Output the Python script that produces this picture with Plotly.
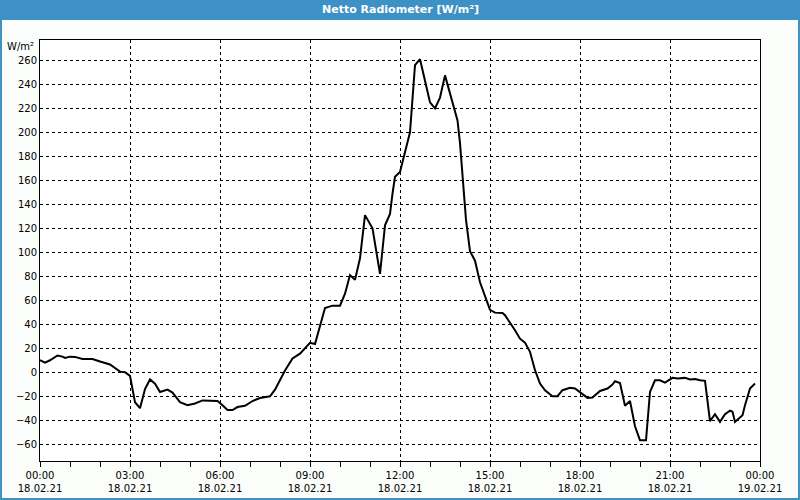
import pandas as pd
import plotly.graph_objects as go

# minutes after 18.02.21 00:00
minutes = [0, 10, 20, 35, 45, 50, 60, 70, 85, 105, 120, 140, 160, 170, 180, 190, 200, 210, 220, 230,
           240, 255, 265, 280, 295, 310, 325, 340, 355, 365, 375, 385, 395, 410, 425, 440, 450, 460, 470, 490,
           505, 520, 540, 550, 570, 585, 600, 610, 620, 630, 640, 650, 665, 670, 680, 690, 700, 705, 710, 720,
           740, 750, 760, 770, 780, 790, 800, 810, 825, 835, 840, 852, 860, 870, 880, 890, 900, 910, 925, 930,
           940, 950, 960, 970, 980, 990, 1000, 1010, 1025, 1035, 1045, 1060, 1070, 1085, 1095, 1105, 1120, 1135, 1145, 1150,
           1160, 1170, 1180, 1190, 1200, 1212, 1220, 1230, 1240, 1250, 1265, 1275, 1290, 1300, 1310, 1320, 1330, 1340, 1350, 1360,
           1370, 1380, 1385, 1390, 1405, 1410, 1420, 1430]
values = [10, 8, 10, 14, 13, 12, 13, 12.8, 11, 11, 9, 6.5, 0.5, 0, -3, -25, -30, -14, -6, -9.5,
          -16.5, -14.5, -17, -25, -27.5, -26, -23.5, -24, -24, -27.5, -31.5, -31.5, -29, -28, -24, -21.5, -20.5, -20, -14.5, 1.5,
          11.5, 15.5, 24.5, 23.5, 53.5, 55.5, 55.5, 65.5, 81, 77, 95, 131, 120, 107, 82, 122.5, 132, 149, 163, 167,
          200, 256, 261, 243, 225, 220, 229, 247.5, 225, 210, 191, 127, 101, 93, 75, 64, 52, 49.7, 49.4, 47.5,
          41.4, 35, 28, 24.7, 17, 1.7, -9.4, -15, -20, -20, -15, -13, -13.6, -18.6, -21.4, -21, -15.6, -13.6, -10.3, -7.5,
          -9, -28, -24, -45, -56.7, -56.7, -16.4, -6.7, -6.7, -8.6, -4.7, -5.3, -4.7, -6, -5.6, -6.7, -7.2, -40.8, -35, -41.4,
          -35, -32, -33, -41.4, -35.8, -27.5, -13.6, -9.4]

tick_hours = [0, 3, 6, 9, 12, 15, 18, 21, 24]
tick_labels = ["00:00<br>18.02.21", "03:00<br>18.02.21", "06:00<br>18.02.21", "09:00<br>18.02.21",
               "12:00<br>18.02.21", "15:00<br>18.02.21", "18:00<br>18.02.21", "21:00<br>18.02.21",
               "00:00<br>19.02.21"]
y_ticks = list(range(-60, 261, 20))

title = "Netto Radiometer [W/m²]"
unit = "W/m²"

start = pd.Timestamp("2021-02-18 00:00")
times = start + pd.to_timedelta(minutes, unit="m")
tick_vals = [start + pd.Timedelta(hours=h) for h in tick_hours]

FONT = "DejaVu Sans"
BLUE = "#3d91c4"

fig = go.Figure()
fig.add_trace(go.Scatter(x=times, y=values, mode="lines",
                         line=dict(color="black", width=2), hoverinfo="skip"))

L, R, T, B = 40, 40, 40, 39
W, H = 800, 500
pw, ph = W - L - R, H - T - B

def px_x(px):
    return (px - L) / pw

def px_y(py):
    return 1 - (py - T) / ph

fig.update_layout(
    width=W, height=H,
    margin=dict(l=L, r=R, t=T, b=B, autoexpand=False),
    paper_bgcolor="#fbfdfb",
    plot_bgcolor="white",
    showlegend=False,
    hovermode=False,
    font=dict(family=FONT, size=10, color="black"),
    xaxis=dict(
        type="date",
        range=[start, start + pd.Timedelta(hours=24)],
        tickvals=tick_vals, ticktext=tick_labels,
        showgrid=True, gridcolor="black", gridwidth=1, griddash="3px,3px",
        showline=True, linecolor="black", linewidth=1, mirror=True,
        ticks="outside", ticklen=5, tickcolor="black", tickwidth=1,
        minor=dict(dtick=3600000, ticks="outside", ticklen=5, tickcolor="black", showgrid=False),
        zeroline=False, fixedrange=True, automargin=False,
    ),
    yaxis=dict(
        range=[-74, 277],
        tickvals=y_ticks,
        showgrid=True, gridcolor="black", gridwidth=1, griddash="3px,3px",
        showline=True, linecolor="black", linewidth=1, mirror=True,
        ticks="", zeroline=False, fixedrange=True, automargin=False,
    ),
    shapes=[
        dict(type="rect", xref="paper", yref="paper",
             x0=px_x(0), x1=px_x(W), y0=px_y(20), y1=px_y(0),
             fillcolor=BLUE, line=dict(width=0), layer="below"),
        dict(type="rect", xref="paper", yref="paper",
             x0=px_x(1), x1=px_x(W - 1), y0=px_y(H - 1), y1=px_y(1),
             fillcolor="rgba(0,0,0,0)", line=dict(color=BLUE, width=2)),
    ],
    annotations=[
        dict(text="<b>" + title + "</b>", xref="paper", yref="paper",
             x=0.5, y=px_y(10), xanchor="center", yanchor="middle",
             showarrow=False, font=dict(family=FONT, size=11, color="white")),
        dict(text=unit, xref="paper", yref="paper",
             x=px_x(36), y=px_y(46), xanchor="right", yanchor="middle",
             showarrow=False, font=dict(family=FONT, size=10, color="black")),
    ],
)

fig.write_html("out.html", config={"displayModeBar": False, "staticPlot": True},
               post_script="document.body.style.margin='0';")
